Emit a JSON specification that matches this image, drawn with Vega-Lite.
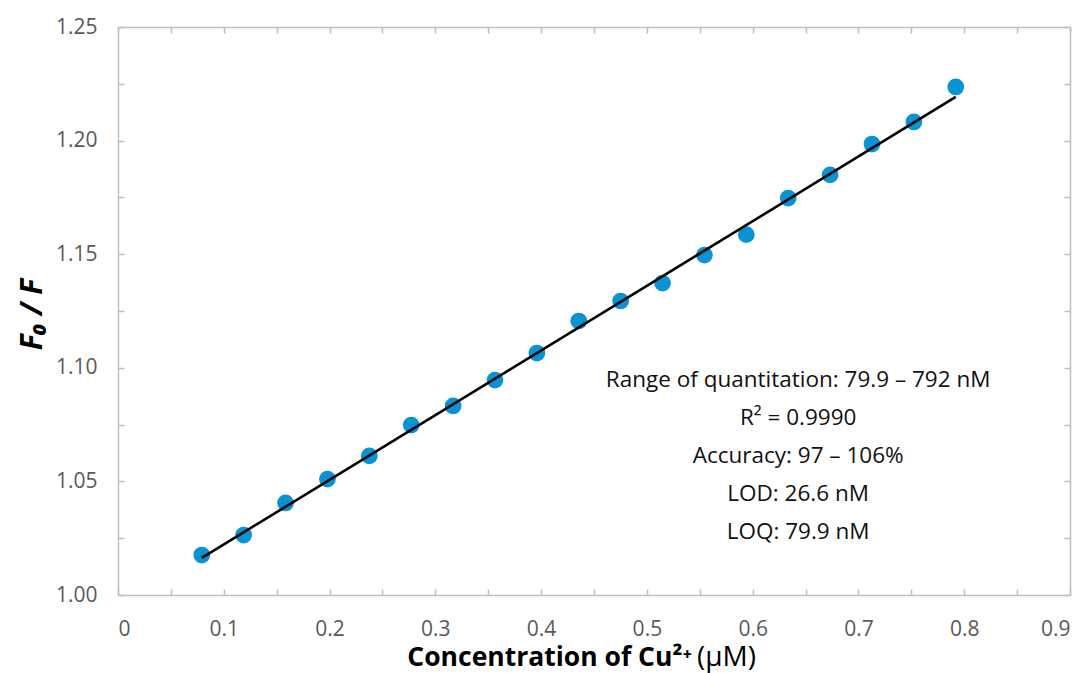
{
  "$schema": "https://vega.github.io/schema/vega-lite/v6.json",
  "width": 952,
  "height": 568,
  "autosize": {"type": "none"},
  "padding": {"left": 118, "top": 27, "right": 14, "bottom": 78},
  "background": "white",
  "config": {
    "view": {"stroke": null},
    "font": "Open Sans",
    "axis": {
      "grid": false,
      "domainColor": "#bfbfbf",
      "domainWidth": 1.5,
      "tickColor": "#bfbfbf",
      "tickWidth": 1.5,
      "tickSize": -6,
      "labelFont": "Open Sans",
      "labelFontSize": 21,
      "labelColor": "#595959",
      "titleFont": "Open Sans"
    }
  },
  "datasets": {
    "points": [
      {"conc": 0.0792, "ratio": 1.0176},
      {"conc": 0.1188, "ratio": 1.0264},
      {"conc": 0.1584, "ratio": 1.0405},
      {"conc": 0.198, "ratio": 1.051},
      {"conc": 0.2376, "ratio": 1.0612},
      {"conc": 0.2772, "ratio": 1.0748},
      {"conc": 0.3168, "ratio": 1.0832},
      {"conc": 0.3564, "ratio": 1.0946},
      {"conc": 0.396, "ratio": 1.1065},
      {"conc": 0.4356, "ratio": 1.1206},
      {"conc": 0.4752, "ratio": 1.1294},
      {"conc": 0.5148, "ratio": 1.1373},
      {"conc": 0.5544, "ratio": 1.1496},
      {"conc": 0.594, "ratio": 1.1586},
      {"conc": 0.6336, "ratio": 1.1747},
      {"conc": 0.6732, "ratio": 1.1849},
      {"conc": 0.7128, "ratio": 1.1985},
      {"conc": 0.7524, "ratio": 1.2082},
      {"conc": 0.792, "ratio": 1.2236}
    ],
    "fit": [
      {"conc": 0.0792, "ratio": 1.0163},
      {"conc": 0.792, "ratio": 1.2192}
    ],
    "one": [{}]
  },
  "resolve": {"axis": {"x": "independent", "y": "independent"}},
  "layer": [
    {
      "data": {"name": "points"},
      "mark": {"type": "point", "filled": true, "shape": "circle", "size": 280, "color": "#0993d3", "opacity": 1},
      "encoding": {
        "x": {
          "field": "conc", "type": "quantitative",
          "scale": {"domain": [0, 0.9], "nice": false, "zero": false},
          "axis": {
            "orient": "bottom",
            "values": [0, 0.05, 0.1, 0.15, 0.2, 0.25, 0.3, 0.35, 0.4, 0.45, 0.5, 0.55, 0.6, 0.65, 0.7, 0.75, 0.8, 0.85, 0.9],
            "labelExpr": "datum.value == 0 ? '0' : (abs(datum.value*10 - round(datum.value*10)) < 0.01 ? format(datum.value, '.1f') : '')",
            "labelPadding": 29,
            "title": null
          }
        },
        "y": {
          "field": "ratio", "type": "quantitative",
          "scale": {"domain": [1, 1.25], "nice": false, "zero": false},
          "axis": {
            "orient": "left",
            "values": [1, 1.025, 1.05, 1.075, 1.1, 1.125, 1.15, 1.175, 1.2, 1.225, 1.25],
            "labelExpr": "abs(datum.value*20 - round(datum.value*20)) < 0.01 ? format(datum.value, '.2f') : ''",
            "labelPadding": 27,
            "title": "F₀ / F",
            "titleFontSize": 30,
            "titleFontWeight": "bold",
            "titleFontStyle": "italic",
            "titleColor": "#000000",
            "titleX": -86,
            "titleY": 287,
            "titleAngle": -90,
            "titleBaseline": "middle",
            "titleAlign": "center"
          }
        }
      }
    },
    {
      "data": {"name": "fit"},
      "mark": {"type": "line", "color": "#000000", "strokeWidth": 2.6},
      "encoding": {
        "x": {
          "field": "conc", "type": "quantitative",
          "axis": {
            "orient": "top",
            "values": [0, 0.05, 0.1, 0.15, 0.2, 0.25, 0.3, 0.35, 0.4, 0.45, 0.5, 0.55, 0.6, 0.65, 0.7, 0.75, 0.8, 0.85, 0.9],
            "labels": false,
            "title": null
          }
        },
        "y": {
          "field": "ratio", "type": "quantitative",
          "axis": {
            "orient": "right",
            "values": [1, 1.025, 1.05, 1.075, 1.1, 1.125, 1.15, 1.175, 1.2, 1.225, 1.25],
            "labels": false,
            "title": null
          }
        }
      }
    },
    {
      "data": {"name": "one"},
      "mark": {
        "type": "text",
        "text": ["Range of quantitation: 79.9 – 792 nM", "R² = 0.9990", "Accuracy: 97 – 106%", "LOD: 26.6 nM", "LOQ: 79.9 nM"],
        "font": "Open Sans",
        "fontSize": 22.5,
        "color": "#111111",
        "align": "center",
        "baseline": "middle",
        "lineHeight": 38
      },
      "encoding": {
        "x": {"datum": 0.643, "type": "quantitative", "axis": null},
        "y": {"datum": 1.0946, "type": "quantitative", "axis": null}
      }
    },
    {
      "data": {"name": "one"},
      "mark": {"type": "text", "text": "Concentration of Cu²⁺", "font": "Open Sans", "fontSize": 26.5, "fontWeight": "bold", "color": "#000000", "align": "right", "baseline": "alphabetic", "clip": false},
      "encoding": {
        "x": {"datum": 0.5426, "type": "quantitative", "axis": null},
        "y": {"datum": 0.9688, "type": "quantitative", "axis": null}
      }
    },
    {
      "data": {"name": "one"},
      "mark": {"type": "text", "text": "(µM)", "font": "Open Sans", "fontSize": 28, "color": "#000000", "align": "left", "baseline": "alphabetic", "dx": 5, "clip": false},
      "encoding": {
        "x": {"datum": 0.5426, "type": "quantitative", "axis": null},
        "y": {"datum": 0.9688, "type": "quantitative", "axis": null}
      }
    }
  ]
}
